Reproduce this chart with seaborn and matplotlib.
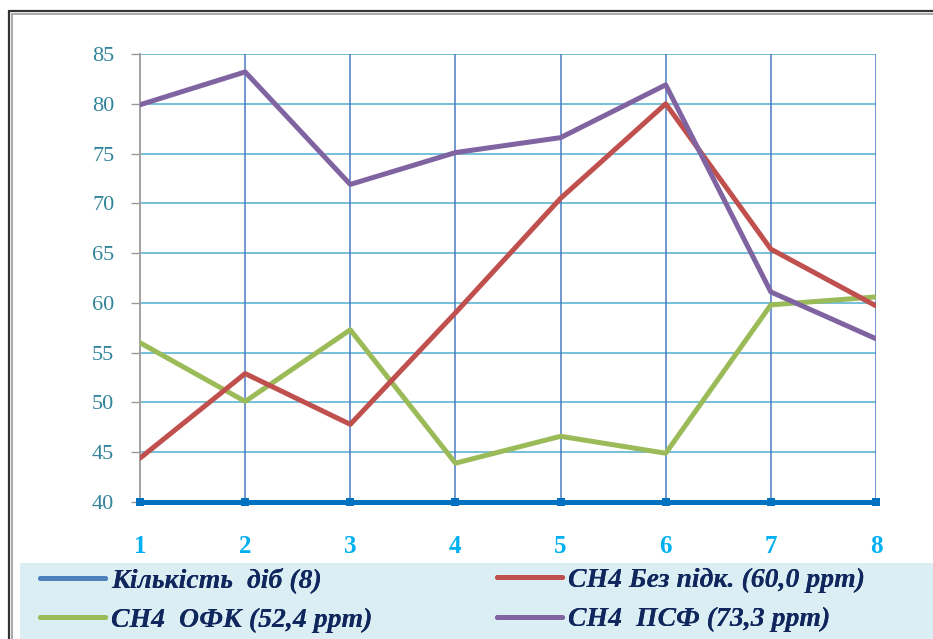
import matplotlib
matplotlib.use("Agg")
import matplotlib.pyplot as plt
from matplotlib.lines import Line2D
from matplotlib.patches import Rectangle
import seaborn as sns
import pandas as pd

# Data
days = [1, 2, 3, 4, 5, 6, 7, 8]
days_line = [40, 40, 40, 40, 40, 40, 40, 40]
ch4_control = [44.4, 52.9, 47.8, 59.0, 70.5, 80.0, 65.4, 59.7]
ch4_ofk = [56.0, 50.1, 57.3, 43.9, 46.6, 44.9, 59.8, 60.6]
ch4_psf = [79.9, 83.2, 71.9, 75.1, 76.6, 81.9, 61.1, 56.4]
y_ticks = [40, 45, 50, 55, 60, 65, 70, 75, 80, 85]

labels = ["Кількість  діб (8)", "CH4 Без підк. (60,0 ppm)",
          "CH4  ОФК (52,4 ppm)", "CH4  ПСФ (73,3 ppm)"]

sns.set_style("white")
plt.rcParams["font.family"] = ["Liberation Serif", "DejaVu Serif"]

fig = plt.figure(figsize=(9.33, 6.39), dpi=100)
ax = fig.add_axes([140 / 933, 1 - 502 / 639, 736 / 933, 448 / 639])

df = pd.DataFrame({"day": days, "base": days_line, "ctrl": ch4_control,
                   "ofk": ch4_ofk, "psf": ch4_psf})

c_blue = "#0070C0"
c_red = "#C0504D"
c_green = "#9BBB59"
c_purple = "#8064A2"
lw = 3.6

sns.lineplot(data=df, x="day", y="ctrl", ax=ax, color=c_red, lw=lw, zorder=4)
sns.lineplot(data=df, x="day", y="ofk", ax=ax, color=c_green, lw=lw, zorder=3)
sns.lineplot(data=df, x="day", y="psf", ax=ax, color=c_purple, lw=lw, zorder=5)
sns.lineplot(data=df, x="day", y="base", ax=ax, color=c_blue, lw=3.6,
             marker="s", markersize=6, markeredgewidth=0, zorder=6, clip_on=False)

ax.set_xlim(1, 8)
ax.set_ylim(40, 85)
ax.set_yticks(y_ticks)
ax.set_xticks(days)
ax.set_xlabel("")
ax.set_ylabel("")

# grid
for v in y_ticks[1:]:
    ax.axhline(v, color="#6BBAD8", lw=1.3, zorder=1)
for d in days[1:]:
    ax.axvline(d, color="#4A7CC4", lw=1.1, zorder=1)

for s in ["top", "right", "bottom"]:
    ax.spines[s].set_visible(False)
ax.spines["left"].set_color("#9A9A9A")
ax.spines["left"].set_linewidth(1.3)

ax.tick_params(axis="y", which="major", left=True, length=6.5, width=1,
               color="#9A9A9A", pad=12, labelsize=16, labelcolor="#31849B")
ax.tick_params(axis="x", which="major", bottom=False, pad=20,
               labelsize=18, labelcolor="#00B0F0")
for t in ax.get_xticklabels():
    t.set_fontweight("bold")

# outer frame
fig.add_artist(Line2D([9 / 933, 9 / 933], [0, 1 - 11 / 639], transform=fig.transFigure,
                      color="#333333", lw=1.6))
fig.add_artist(Line2D([9 / 933, 1], [1 - 11 / 639, 1 - 11 / 639], transform=fig.transFigure,
                      color="#333333", lw=1.6))
fig.add_artist(Line2D([12 / 933, 12 / 933], [0, 1 - 14 / 639], transform=fig.transFigure,
                      color="#A8A8A8", lw=1.4))
fig.add_artist(Line2D([12 / 933, 1], [1 - 14 / 639, 1 - 14 / 639], transform=fig.transFigure,
                      color="#A8A8A8", lw=1.4))

# legend panel
fig.add_artist(Rectangle((20 / 933, 0), 913 / 933, 76 / 639, transform=fig.transFigure,
                         facecolor="#DBEEF4", edgecolor="none", zorder=0))

handles = [Line2D([], [], color="#4F81BD", lw=3.6),
           Line2D([], [], color=c_red, lw=3.6),
           Line2D([], [], color=c_green, lw=3.6),
           Line2D([], [], color=c_purple, lw=3.6)]
legend_font = {"family": "Liberation Serif", "weight": "bold",
               "style": "italic", "size": 20}
columns = [([0, 2], 40), ([1, 3], 497)]
for idx, x0 in columns:
    leg = fig.legend([handles[i] for i in idx], [labels[i] for i in idx],
                     loc="center left", bbox_to_anchor=(x0 / 933, 1 - 600 / 639),
                     frameon=False, handlelength=2.35, handletextpad=0.2,
                     labelspacing=0.5, borderaxespad=0.0, borderpad=0.0,
                     prop=legend_font)
    for t in leg.get_texts():
        t.set_color("#10275E")
    fig.add_artist(leg)

fig.savefig("out.png", dpi=100)
